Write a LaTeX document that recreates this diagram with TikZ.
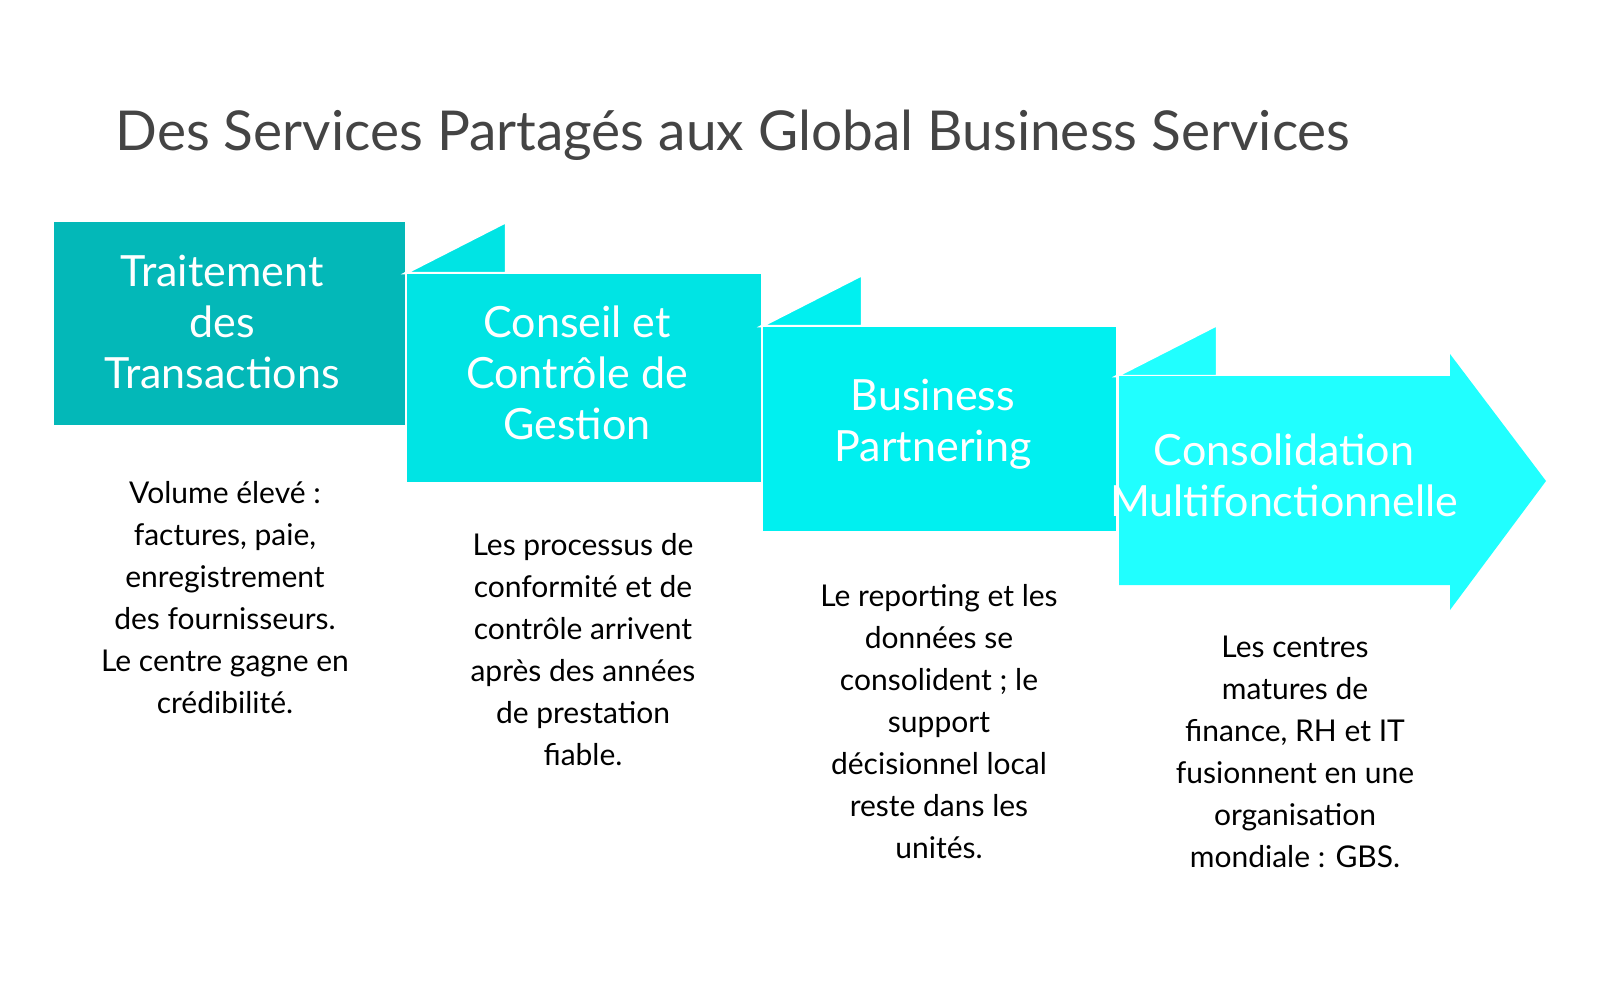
\documentclass[tikz,border=0pt]{standalone}
\usepackage{fontspec}
\setmainfont{Lato}
\usetikzlibrary{positioning}
\definecolor{tealA}{HTML}{03B8B8}
\definecolor{tealB}{HTML}{00E4E4}
\definecolor{tealC}{HTML}{00F0F0}
\definecolor{tealD}{HTML}{20FFFF}
\definecolor{titlegray}{HTML}{444444}
\tikzstyle{stage}=[draw=white,line width=2.5pt]
\tikzstyle{head}=[text=white,align=center,font=\fontsize{43}{51}\selectfont]
\tikzstyle{desc}=[text=black,align=center,anchor=north,font=\fontsize{30}{42}\selectfont]
\begin{document}
\begin{tikzpicture}[x=1pt,y=-1pt]
\useasboundingbox (0,0) rectangle (1600,980);
	\node[text=titlegray,font=\fontsize{55}{60}\selectfont,anchor=west] (title) at (112,135) {Des Services Partagés aux Global Business Services};

	% stages, left to right
	\path[stage,fill=tealA] (53,221) rectangle (406,426);
	\path[stage,fill=tealB] (406,273) -- (506,222) -- (506,273) -- cycle;
	\path[stage,fill=tealB] (406,273) rectangle (762,483);
	\path[stage,fill=tealC] (762,326) -- (862,275) -- (862,326) -- cycle;
	\path[stage,fill=tealC] (762,326) rectangle (1117,532);
	\path[stage,fill=tealD] (1117,376) -- (1217,325) -- (1217,376) -- cycle;
	\path[fill=tealD] (1119,376) -- (1450,376) -- (1450,354) -- (1546,481)
		-- (1450,610) -- (1450,585) -- (1119,585) -- cycle;
	\draw[white,line width=2.5pt] (1117,376) -- (1117,585);

	\node[head] (h1) at (222,322) {Traitement\\des\\Transactions};
	\node[head] (h2) at (577,373) {Conseil et\\Contrôle de\\Gestion};
	\node[head] (h3) at (933,424) {Business\\Partnering};
	\node[head] (h4) at (1284,475) {Consolidation\\Multifonctionnelle};

	\node[desc] (d1) at (225,478) {Volume élevé :\\factures, paie,\\enregistrement\\des fournisseurs.\\Le centre gagne en\\crédibilité.};
	\node[desc] (d2) at (583,530) {Les processus de\\conformité et de\\contrôle arrivent\\après des années\\de prestation\\fiable.};
	\node[desc] (d3) at (939,581) {Le reporting et les\\données se\\consolident ; le\\support\\décisionnel local\\reste dans les\\unités.};
	\node[desc] (d4) at (1295,632) {Les centres\\matures de\\finance, RH et IT\\fusionnent en une\\organisation\\mondiale : GBS.};
\end{tikzpicture}
\end{document}
